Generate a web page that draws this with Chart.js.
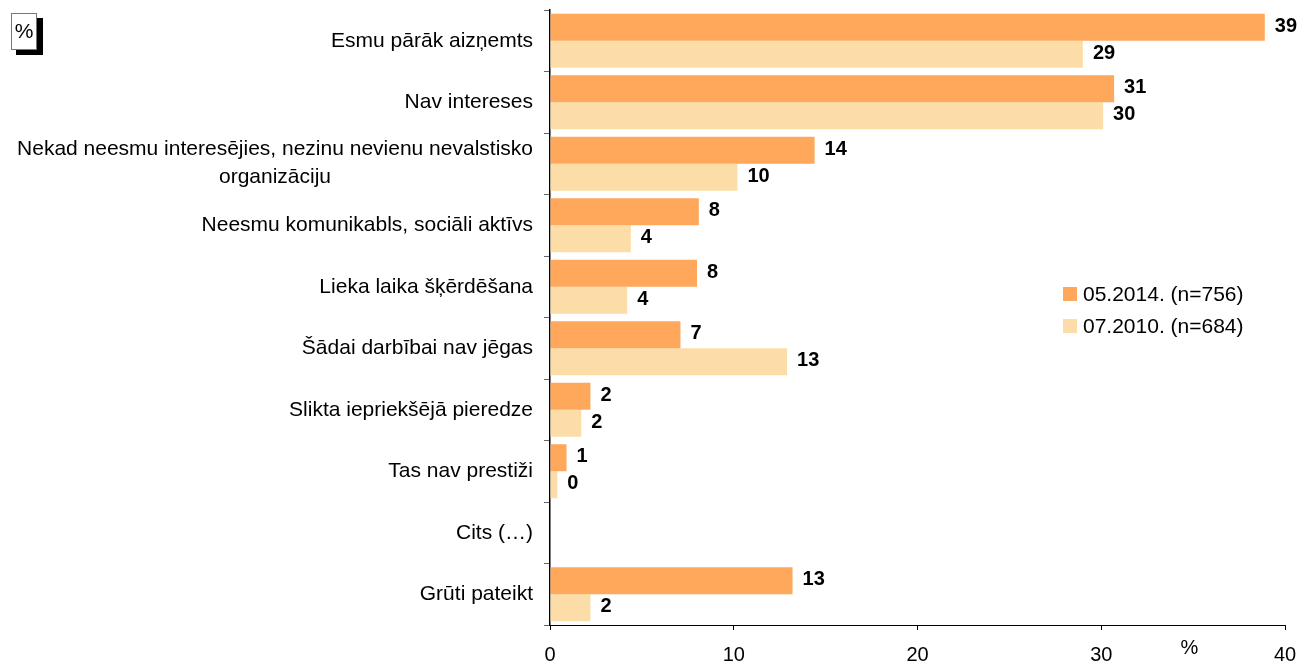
<!DOCTYPE html>
<html>
<head>
<meta charset="utf-8">
<title>Iemesli</title>
<script src="https://cdn.jsdelivr.net/npm/chart.js@4.4.1/dist/chart.umd.min.js"></script>
<style>
  html, body { margin: 0; padding: 0; background: #ffffff; }
  canvas { display: block; }
</style>
</head>
<body>
<canvas id="c" width="1299" height="664"></canvas>
<script>
// Answer categories (a line break splits a long label over two lines)
const categories = [
  "Esmu pārāk aizņemts",
  "Nav intereses",
  "Nekad neesmu interesējies, nezinu nevienu nevalstisko\norganizāciju",
  "Neesmu komunikabls, sociāli aktīvs",
  "Lieka laika šķērdēšana",
  "Šādai darbībai nav jēgas",
  "Slikta iepriekšējā pieredze",
  "Tas nav prestiži",
  "Cits (…)",
  "Grūti pateikt"
];

// Survey waves and their shares, %
const seriesNames = ["05.2014. (n=756)", "07.2010. (n=684)"];
const values2014 = [38.9, 30.7, 14.4, 8.1, 8.0, 7.1, 2.2, 0.9, null, 13.2];
const values2010 = [29.0, 30.1, 10.2, 4.4, 4.2, 12.9, 1.7, 0.4, null, 2.2];

// Value axis tick labels
const xTicks = [0, 10, 20, 30, 40];

const FONT = "'Liberation Sans', Arial, sans-serif";
const COLORS = ["#FFA75B", "#FDDDA7"];

// Category labels, value labels, axis labels, legend and the unit badges
const decorations = {
  id: "decorations",
  afterDraw(chart) {
    const ctx = chart.ctx;
    const yScale = chart.scales.y;
    const xScale = chart.scales.x;
    const area = chart.chartArea;
    const W = chart.width;
    ctx.save();

    // category labels to the left of the axis
    ctx.fillStyle = "#000";
    ctx.font = "21px " + FONT;
    ctx.textBaseline = "middle";
    const rightEdge = area.left - 17;
    const lineH = 28;
    categories.forEach((label, i) => {
      const yc = yScale.getPixelForValue(i);
      const lines = label.split("\n");
      if (lines.length === 1) {
        ctx.textAlign = "right";
        ctx.fillText(label, rightEdge, yc);
      } else {
        const widest = Math.max(...lines.map(l => ctx.measureText(l).width));
        const cx = rightEdge - widest / 2;
        ctx.textAlign = "center";
        lines.forEach((l, k) => {
          ctx.fillText(l, cx, yc - 1 + (k - (lines.length - 1) / 2) * lineH);
        });
      }
    });

    // value axis tick labels, kept inside the canvas
    ctx.font = "20px " + FONT;
    ctx.textAlign = "center";
    xTicks.forEach(v => {
      const w = ctx.measureText(String(v)).width;
      const px = Math.min(xScale.getPixelForValue(v), W - w / 2);
      ctx.fillText(String(v), px, 655);
    });

    // unit label next to the value axis
    ctx.fillText("%", xScale.getPixelForValue(34.8), 648);

    // value labels at the bar ends
    ctx.font = "bold 20px " + FONT;
    ctx.textAlign = "left";
    chart.data.datasets.forEach((ds, di) => {
      const meta = chart.getDatasetMeta(di);
      meta.data.forEach((bar, i) => {
        const v = ds.data[i];
        if (v === null || v === undefined) return;
        ctx.fillText(String(Math.round(v)), bar.x + 10, bar.y - 1);
      });
    });

    // legend inside the plot
    ctx.font = "21px " + FONT;
    const lx = 1063, ly = [294, 326];
    seriesNames.forEach((name, k) => {
      ctx.fillStyle = COLORS[k];
      ctx.fillRect(lx, ly[k] - 7, 14, 14);
      ctx.fillStyle = "#000";
      ctx.textAlign = "left";
      ctx.fillText(name, lx + 20, ly[k] + 1);
    });

    // "%" badge with a drop shadow in the corner
    ctx.fillStyle = "#000";
    ctx.fillRect(16, 18, 27, 37);
    ctx.fillStyle = "#fff";
    ctx.fillRect(11, 13, 26, 37);
    ctx.strokeStyle = "#777";
    ctx.lineWidth = 1;
    ctx.strokeRect(11.5, 13.5, 25, 36);
    ctx.fillStyle = "#000";
    ctx.font = "21px " + FONT;
    ctx.textAlign = "center";
    ctx.fillText("%", 24, 32);

    ctx.restore();
  }
};

new Chart(document.getElementById("c"), {
  type: "bar",
  data: {
    labels: categories,
    datasets: [
      { label: seriesNames[0], data: values2014, backgroundColor: COLORS[0], borderWidth: 0 },
      { label: seriesNames[1], data: values2010, backgroundColor: COLORS[1], borderWidth: 0 }
    ]
  },
  options: {
    indexAxis: "y",
    responsive: false,
    animation: false,
    devicePixelRatio: 1,
    layout: { padding: { left: 544, top: 10, right: 14, bottom: 34 } },
    datasets: { bar: { categoryPercentage: 0.878, barPercentage: 1.0 } },
    plugins: { legend: { display: false }, tooltip: { enabled: false } },
    scales: {
      x: {
        min: 0,
        max: 40,
        afterBuildTicks(scale) { scale.ticks = xTicks.map(v => ({ value: v })); },
        ticks: { display: false },
        grid: { display: true, drawOnChartArea: false, drawTicks: true, tickLength: 5, color: "#000" },
        border: { display: true, color: "#000", width: 1 }
      },
      y: {
        type: "category",
        offset: true,
        ticks: { display: false },
        grid: { display: true, offset: true, drawOnChartArea: false, drawTicks: true, tickLength: 6, color: "#666" },
        border: { display: true, color: "#000", width: 1.5 }
      }
    }
  },
  plugins: [decorations]
});
</script>
</body>
</html>
